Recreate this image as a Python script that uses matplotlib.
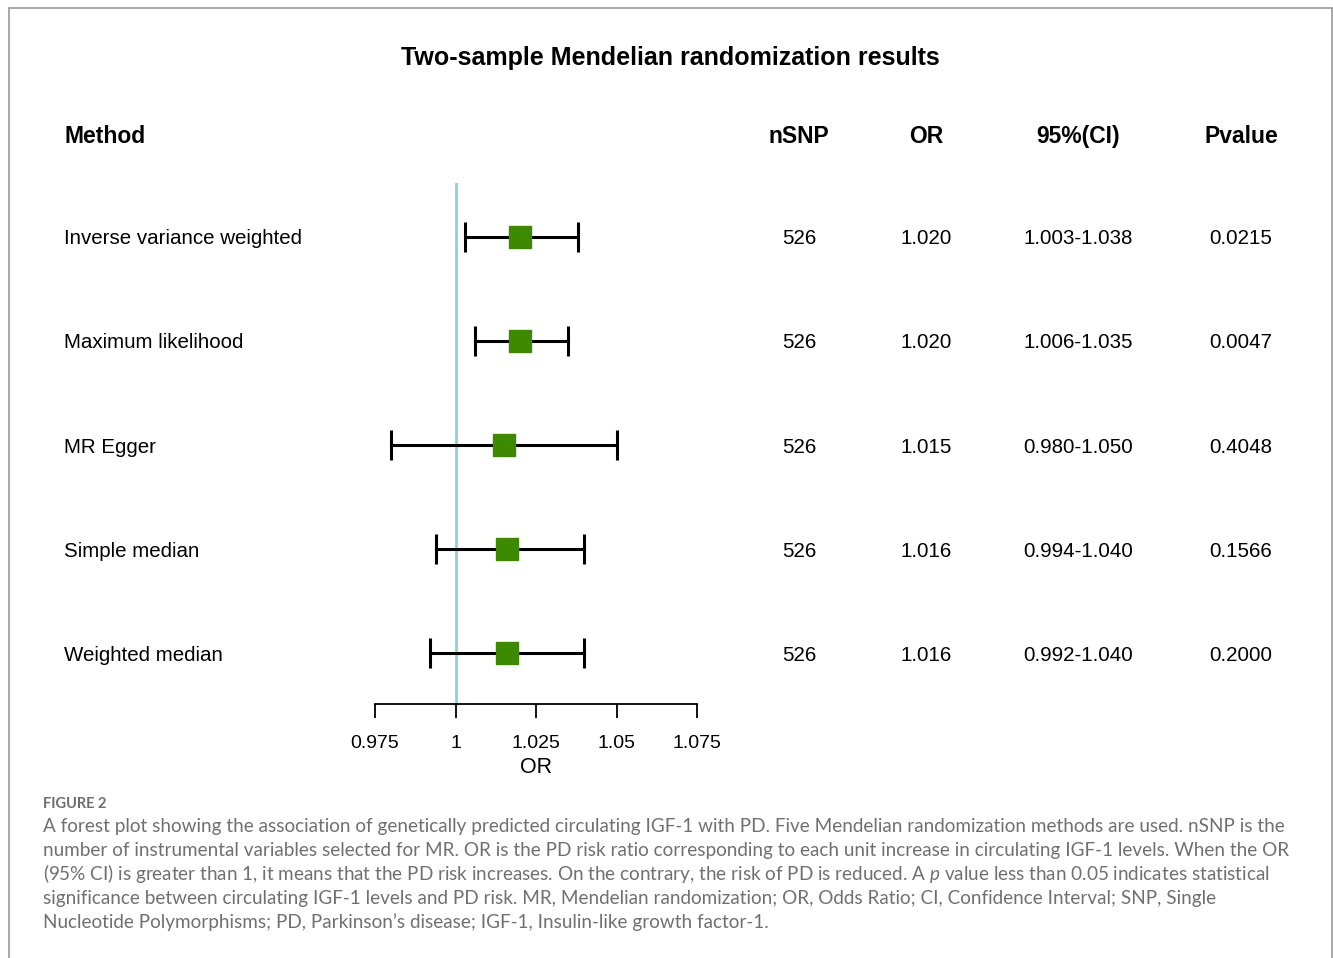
import matplotlib.pyplot as plt
import matplotlib.transforms as mtransforms
from matplotlib.lines import Line2D

# MR estimates for IGF-1 -> PD
methods = ['Inverse variance weighted', 'Maximum likelihood', 'MR Egger',
           'Simple median', 'Weighted median']
nsnp = [526, 526, 526, 526, 526]
or_val = [1.020, 1.020, 1.015, 1.016, 1.016]
ci_lo = [1.003, 1.006, 0.980, 0.994, 0.992]
ci_hi = [1.038, 1.035, 1.050, 1.040, 1.040]
pvals = ['0.0215', '0.0047', '0.4048', '0.1566', '0.2000']
xticks = [0.975, 1, 1.025, 1.05, 1.075]
xticklabels = ['0.975', '1', '1.025', '1.05', '1.075']

W, H = 1333, 958
fig = plt.figure(figsize=(W / 100, H / 100), dpi=100)
plt.rcParams['font.family'] = ['Liberation Sans', 'DejaVu Sans']
plt.rcParams['mathtext.fontset'] = 'custom'
plt.rcParams['mathtext.it'] = 'Lato:italic'
plt.rcParams['mathtext.rm'] = 'Lato'

# forest panel: x in OR units, rows 0..4
ax = fig.add_axes([375 / W, 1 - 704 / H, (697 - 375) / W, (704 - 183) / H])
ax.set_xlim(0.975, 1.075)
ax.set_ylim(4.49, -0.519)

ax.axvline(1, color='#8fd0d8', lw=2, zorder=1)
for i in range(len(methods)):
    ax.plot([ci_lo[i], ci_hi[i]], [i, i], color='black', lw=2.2, zorder=2)
    ax.plot([ci_lo[i], ci_hi[i]], [i, i], ls='none', marker='|',
            ms=22, mew=2.2, color='black', zorder=2)
    ax.plot(or_val[i], i, marker='s', ms=16, color='#3d8a00',
            mec='#3d8a00', zorder=3)

for s in ['top', 'right', 'left']:
    ax.spines[s].set_visible(False)
ax.spines['bottom'].set_linewidth(1.3)
ax.set_yticks([])
ax.set_xticks(xticks)
ax.set_xticklabels(xticklabels, fontsize=14)
ax.tick_params(axis='x', direction='out', length=10, width=1.3, pad=12)
ax.set_xlabel('OR', fontsize=15.5, labelpad=4)
ax.patch.set_alpha(0)

# table columns aligned with the rows
tr = mtransforms.blended_transform_factory(fig.transFigure, ax.transData)
row_fs = 14.8
for i in range(len(methods)):
    cells = [(64, methods[i], 'left'), (799, str(nsnp[i]), 'center'),
             (926, f'{or_val[i]:.3f}', 'center'),
             (1078, f'{ci_lo[i]:.3f}-{ci_hi[i]:.3f}', 'center'),
             (1241, pvals[i], 'center')]
    for x, t, ha in cells:
        ax.text(x / W, i, t, transform=tr, fontsize=row_fs, ha=ha,
                va='center_baseline')

# headers
hy = 1 - 134 / H
fig.text(64 / W, hy, 'Method', fontsize=16.5, fontweight='bold', ha='left',
         va='center_baseline')
for x, t in [(799, 'nSNP'), (926, 'OR'), (1078, '95%(CI)'), (1241, 'Pvalue')]:
    fig.text(x / W, hy, t, fontsize=16.5, fontweight='bold', ha='center',
             va='center_baseline')
fig.text(670 / W, 1 - 55 / H, 'Two-sample Mendelian randomization results',
         fontsize=18, fontweight='bold', ha='center', va='center_baseline')

# outer frame
frame_kw = dict(color='#9a9a9a', lw=1.2, transform=fig.transFigure)
fig.add_artist(Line2D([9 / W, 9 / W], [0, 1 - 8 / H], **frame_kw))
fig.add_artist(Line2D([1332 / W, 1332 / W], [0, 1 - 8 / H], **frame_kw))
fig.add_artist(Line2D([9 / W, 1332 / W], [1 - 8 / H, 1 - 8 / H], **frame_kw))

# caption
cap_font = ['Lato', 'DejaVu Sans']
fig.text(43 / W, 1 - 808 / H, 'FIGURE 2', fontsize=10.5, color='#6e6e6e',
         family=cap_font, fontweight='bold', ha='left', va='baseline')
caption = [
    'A forest plot showing the association of genetically predicted circulating IGF-1 with PD. Five Mendelian randomization methods are used. nSNP is the',
    'number of instrumental variables selected for MR. OR is the PD risk ratio corresponding to each unit increase in circulating IGF-1 levels. When the OR',
    '(95% CI) is greater than 1, it means that the PD risk increases. On the contrary, the risk of PD is reduced. A $\\it{p}$ value less than 0.05 indicates statistical',
    'significance between circulating IGF-1 levels and PD risk. MR, Mendelian randomization; OR, Odds Ratio; CI, Confidence Interval; SNP, Single',
    'Nucleotide Polymorphisms; PD, Parkinson\u2019s disease; IGF-1, Insulin-like growth factor-1.',
]
for k, line in enumerate(caption):
    fig.text(43 / W, 1 - (832 + 24 * k) / H, line, fontsize=13.6, color='#707070',
             family=cap_font, fontweight='normal', ha='left', va='baseline')

fig.savefig('out.png', dpi=100)
